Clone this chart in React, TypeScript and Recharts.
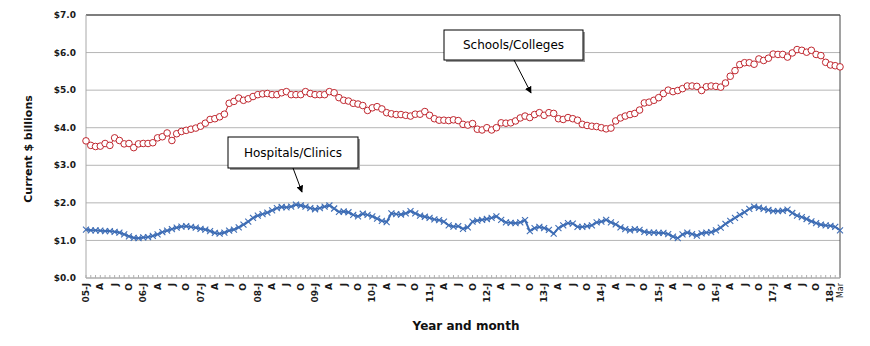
import React from 'react';
import { LineChart, Line, XAxis, YAxis, CartesianGrid, ReferenceLine, Label } from 'recharts';

// Monthly categories, Jan 2005 .. Mar 2018 (159 months)
const monthNames = ['Jan', 'Feb', 'Mar', 'Apr', 'May', 'Jun', 'Jul', 'Aug', 'Sep', 'Oct', 'Nov', 'Dec'];
const months: string[] = [];
for (let y = 2005; y <= 2018; y++) {
  for (let m = 0; m < 12; m++) {
    if (y === 2018 && m > 2) break;
    months.push(`${monthNames[m]} ${y}`);
  }
}

// Schools/Colleges, current $ billions
const schools = [
  3.65, 3.53, 3.50, 3.51, 3.58, 3.53, 3.73, 3.66, 3.57, 3.58,
  3.47, 3.57, 3.58, 3.58, 3.60, 3.73, 3.76, 3.86, 3.66, 3.84,
  3.90, 3.93, 3.96, 3.99, 4.04, 4.12, 4.22, 4.24, 4.29, 4.36,
  4.65, 4.70, 4.79, 4.73, 4.77, 4.83, 4.88, 4.90, 4.91, 4.88,
  4.88, 4.93, 4.96, 4.88, 4.88, 4.88, 4.96, 4.91, 4.88, 4.88,
  4.88, 4.96, 4.93, 4.80, 4.73, 4.71, 4.65, 4.63, 4.59, 4.46,
  4.53, 4.56, 4.50, 4.40, 4.37, 4.35, 4.35, 4.33, 4.31, 4.36,
  4.36, 4.43, 4.33, 4.24, 4.20, 4.20, 4.19, 4.21, 4.19, 4.09,
  4.07, 4.11, 3.96, 3.94, 4.00, 3.94, 4.00, 4.13, 4.12, 4.13,
  4.18, 4.26, 4.31, 4.27, 4.35, 4.40, 4.33, 4.40, 4.38, 4.24,
  4.22, 4.27, 4.24, 4.20, 4.09, 4.06, 4.04, 4.03, 4.00, 3.97,
  3.99, 4.18, 4.26, 4.31, 4.35, 4.38, 4.47, 4.66, 4.68, 4.73,
  4.80, 4.91, 5.00, 4.96, 4.99, 5.04, 5.11, 5.11, 5.10, 4.99,
  5.09, 5.11, 5.10, 5.08, 5.19, 5.37, 5.52, 5.68, 5.73, 5.73,
  5.69, 5.83, 5.79, 5.85, 5.96, 5.95, 5.95, 5.88, 5.99, 6.08,
  6.06, 6.01, 6.06, 5.95, 5.92, 5.74, 5.67, 5.65, 5.62,
];

// Hospitals/Clinics, current $ billions
const hospitals = [
  1.29, 1.27, 1.27, 1.26, 1.25, 1.25, 1.23, 1.21, 1.16, 1.11,
  1.07, 1.06, 1.08, 1.09, 1.12, 1.16, 1.22, 1.26, 1.30, 1.34,
  1.37, 1.38, 1.36, 1.34, 1.31, 1.29, 1.25, 1.20, 1.18, 1.21,
  1.26, 1.29, 1.35, 1.42, 1.50, 1.60, 1.66, 1.70, 1.74, 1.80,
  1.86, 1.89, 1.88, 1.90, 1.95, 1.93, 1.90, 1.86, 1.83, 1.86,
  1.90, 1.93, 1.85, 1.76, 1.77, 1.75, 1.68, 1.64, 1.71, 1.68,
  1.64, 1.58, 1.52, 1.49, 1.72, 1.70, 1.69, 1.72, 1.78, 1.72,
  1.66, 1.63, 1.60, 1.56, 1.54, 1.50, 1.40, 1.37, 1.38, 1.31,
  1.35, 1.50, 1.53, 1.55, 1.57, 1.60, 1.64, 1.55, 1.48, 1.47,
  1.46, 1.48, 1.54, 1.25, 1.33, 1.36, 1.33, 1.28, 1.18, 1.33,
  1.40, 1.46, 1.45, 1.36, 1.36, 1.38, 1.40, 1.48, 1.50, 1.55,
  1.48, 1.43, 1.35, 1.30, 1.27, 1.30, 1.28, 1.23, 1.21, 1.21,
  1.20, 1.20, 1.17, 1.10, 1.06, 1.16, 1.21, 1.17, 1.13, 1.19,
  1.21, 1.22, 1.27, 1.34, 1.44, 1.52, 1.60, 1.68, 1.75, 1.84,
  1.90, 1.87, 1.84, 1.81, 1.78, 1.78, 1.79, 1.82, 1.73, 1.66,
  1.62, 1.57, 1.51, 1.46, 1.42, 1.40, 1.39, 1.36, 1.27,
];

// Y axis ticks (billions)
const yTicks = [0, 1, 2, 3, 4, 5, 6, 7];

// X axis tick labels (every quarter, plus the final month)
const xTickLabels = [
  '05-J', 'A', 'J', 'O', '06-J', 'A', 'J', 'O', '07-J', 'A', 'J', 'O',
  '08-J', 'A', 'J', 'O', '09-J', 'A', 'J', 'O', '10-J', 'A', 'J', 'O',
  '11-J', 'A', 'J', 'O', '12-J', 'A', 'J', 'O', '13-J', 'A', 'J', 'O',
  '14-J', 'A', 'J', 'O', '15-J', 'A', 'J', 'O', '16-J', 'A', 'J', 'O',
  '17-J', 'A', 'J', 'O', '18-J', 'Mar',
];
const xTickMonths = [
  'Jan 2005', 'Apr 2005', 'Jul 2005', 'Oct 2005', 'Jan 2006', 'Apr 2006', 'Jul 2006', 'Oct 2006',
  'Jan 2007', 'Apr 2007', 'Jul 2007', 'Oct 2007', 'Jan 2008', 'Apr 2008', 'Jul 2008', 'Oct 2008',
  'Jan 2009', 'Apr 2009', 'Jul 2009', 'Oct 2009', 'Jan 2010', 'Apr 2010', 'Jul 2010', 'Oct 2010',
  'Jan 2011', 'Apr 2011', 'Jul 2011', 'Oct 2011', 'Jan 2012', 'Apr 2012', 'Jul 2012', 'Oct 2012',
  'Jan 2013', 'Apr 2013', 'Jul 2013', 'Oct 2013', 'Jan 2014', 'Apr 2014', 'Jul 2014', 'Oct 2014',
  'Jan 2015', 'Apr 2015', 'Jul 2015', 'Oct 2015', 'Jan 2016', 'Apr 2016', 'Jul 2016', 'Oct 2016',
  'Jan 2017', 'Apr 2017', 'Jul 2017', 'Oct 2017', 'Jan 2018', 'Mar 2018',
];

const data = months.map((m, i) => ({ idx: i, month: m, schools: schools[i], hospitals: hospitals[i] }));
const labelAt: Record<number, string> = {};
xTickMonths.forEach((m, k) => {
  labelAt[months.indexOf(m)] = xTickLabels[k];
});
const allIdx = months.map((_, i) => i);

const FONT = "'DejaVu Sans', sans-serif";
const RED = '#c0262e';
const BLUE = '#3e6db5';

const XTick = (props: any) => {
  const { x, y, payload } = props;
  const lab = labelAt[payload.value];
  const isMar = lab === 'Mar';
  return (
    <g>
      <line x1={x} x2={x} y1={y - 3} y2={y} stroke="#b0b0b0" strokeWidth={1} />
      {lab && (
        <text
          x={x}
          y={y + 5}
          transform={`rotate(-90 ${x} ${y + 5})`}
          textAnchor="end"
          dominantBaseline="central"
          fontFamily={FONT}
          fontSize={isMar ? 8 : 9}
          fontWeight={isMar ? 'normal' : 'bold'}
          fill="#1a1a1a"
        >
          {lab}
        </text>
      )}
    </g>
  );
};

const XDot = (props: any) => {
  const { cx, cy } = props;
  if (cx == null || cy == null) return null;
  const s = 3;
  return (
    <g>
      <line x1={cx - s} y1={cy - s} x2={cx + s} y2={cy + s} stroke={BLUE} strokeWidth={1.1} />
      <line x1={cx - s} y1={cy + s} x2={cx + s} y2={cy - s} stroke={BLUE} strokeWidth={1.1} />
    </g>
  );
};

export default function App() {
  return (
    <div style={{ position: 'absolute', left: 0, top: 0, width: 870, height: 346, background: '#fff' }}>
      <LineChart
        width={870}
        height={346}
        data={data}
        margin={{ top: 15, right: 30, bottom: 0, left: 0 }}
      >
        <CartesianGrid vertical={false} stroke="#b5b5b5" strokeWidth={1} />
        <XAxis
          dataKey="idx"
          type="number"
          domain={[0, months.length - 1]}
          ticks={allIdx}
          interval={0}
          height={68}
          tickSize={0}
          tickMargin={0}
          tickLine={false}
          axisLine={{ stroke: '#a8a8a8', strokeWidth: 1 }}
          tick={<XTick />}
        >
          <Label
            content={() => (
              <text x={466} y={326} textAnchor="middle" dominantBaseline="central" fontFamily={FONT} fontSize={12} fontWeight="bold" fill="#111">
                Year and month
              </text>
            )}
          />
        </XAxis>
        <YAxis
          type="number"
          domain={[0, 7]}
          ticks={yTicks}
          interval={0}
          width={86}
          tickLine={false}
          tickSize={0}
          tickMargin={10}
          axisLine={{ stroke: '#a8a8a8', strokeWidth: 1 }}
          tickFormatter={(v: number) => `$${v.toFixed(1)}`}
          tick={{ fontFamily: FONT, fontSize: 9, fontWeight: 'bold', fill: '#1a1a1a' }}
        >
          <Label
            content={() => (
              <text x={28} y={149} transform="rotate(-90 28 149)" textAnchor="middle" dominantBaseline="central" fontFamily={FONT} fontSize={11} fontWeight="bold" fill="#111">
                Current $ billions
              </text>
            )}
          />
        </YAxis>
        <ReferenceLine y={7} stroke="#222" strokeWidth={1} />
        <ReferenceLine x={months.length - 1} stroke="#444" strokeWidth={1} />
        <Line
          type="linear"
          dataKey="hospitals"
          stroke={BLUE}
          strokeWidth={2}
          dot={<XDot />}
          isAnimationActive={false}
        />
        <Line
          type="linear"
          dataKey="schools"
          stroke={RED}
          strokeWidth={1}
          dot={{ r: 3.3, fill: '#fff', stroke: RED, strokeWidth: 1 }}
          isAnimationActive={false}
        />
      </LineChart>
      <svg width={870} height={346} style={{ position: 'absolute', left: 0, top: 0, pointerEvents: 'none' }}>
        <defs>
          <marker id="arrowHead" viewBox="0 0 10 10" refX="9" refY="5" markerWidth="7" markerHeight="7" orient="auto">
            <path d="M0,0 L10,5 L0,10 z" fill="#000" />
          </marker>
        </defs>
        <rect x={446} y={32} width={139} height={30} fill="#9a9a9a" />
        <rect x={444} y={30} width={139} height={30} fill="#fff" stroke="#000" strokeWidth={1} />
        <text x={513.5} y={45} textAnchor="middle" dominantBaseline="central" fontFamily={FONT} fontSize={12} fill="#000">
          Schools/Colleges
        </text>
        <line x1={514} y1={60} x2={531} y2={93} stroke="#000" strokeWidth={1} markerEnd="url(#arrowHead)" />
        <rect x={230} y={139} width={130} height={31} fill="#9a9a9a" />
        <rect x={228} y={137} width={130} height={31} fill="#fff" stroke="#000" strokeWidth={1} />
        <text x={293} y={152.5} textAnchor="middle" dominantBaseline="central" fontFamily={FONT} fontSize={12} fill="#000">
          Hospitals/Clinics
        </text>
        <line x1={293} y1={168} x2={302} y2={192} stroke="#000" strokeWidth={1} markerEnd="url(#arrowHead)" />
      </svg>
    </div>
  );
}
